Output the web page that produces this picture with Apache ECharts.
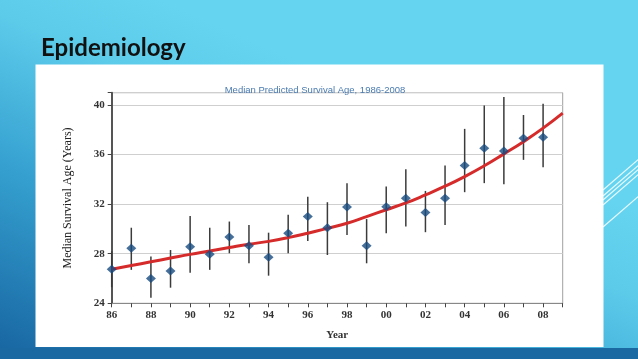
<!DOCTYPE html>
<html>
<head>
<meta charset="utf-8">
<script src="https://cdn.jsdelivr.net/npm/echarts@6/dist/echarts.min.js"></script>
<style>
html,body{margin:0;padding:0;width:638px;height:359px;overflow:hidden;}
#c{width:638px;height:359px;}
</style>
</head>
<body>
<div id="c"></div>
<script>
// ---- data ----
var years = [1986,1987,1988,1989,1990,1991,1992,1993,1994,1995,1996,1997,1998,1999,2000,2001,2002,2003,2004,2005,2006,2007,2008];
var medians = [26.75,28.44,26.0,26.6,28.57,27.96,29.36,28.65,27.72,29.66,31.0,30.1,31.78,28.65,31.8,32.48,31.32,32.48,35.12,36.52,36.3,37.33,37.41];
var lows  = [25.3,26.7,24.45,25.26,26.47,26.7,28.04,27.23,26.23,28.04,29.03,27.9,29.52,27.23,29.66,30.19,29.74,30.33,32.97,33.7,33.6,35.58,34.99];
var highs = [28.2,30.1,27.77,28.3,31.05,30.1,30.6,30.33,29.7,31.14,32.6,32.16,33.7,30.8,33.42,34.83,33.07,35.12,38.08,39.97,40.65,39.2,40.1];
var fitYears = [1986,1987,1988,1989,1990,1991,1992,1993,1994,1995,1996,1997,1998,1999,2000,2001,2002,2003,2004,2005,2006,2007,2008,2009];
var fitValues = [26.75,27.05,27.35,27.65,27.95,28.22,28.5,28.77,29.0,29.3,29.66,30.05,30.46,31.0,31.55,32.1,32.75,33.45,34.23,35.1,36.06,37.05,38.14,39.35];
var yTickValues = [24,28,32,36,40];
var slideTitle = 'Epidemiology';
var chartTitle = 'Median Predicted Survival Age, 1986-2008';
var yName = 'Median Survival Age (Years)';
var xName = 'Year';

var pointData = years.map(function(y,i){return [y, medians[i]];});
var barData = years.map(function(y,i){return [y, lows[i], highs[i]];});
var fitData = fitYears.map(function(y,i){return [y, fitValues[i]];});

var chart = echarts.init(document.getElementById('c'), null, {renderer:'canvas'});
var serif = '"Liberation Serif","DejaVu Serif",serif';
var diag = [190,196,200,205,227];
var graphics = [
  {type:'rect', z:-10, silent:true, shape:{x:0,y:0,width:638,height:359},
   style:{fill:new echarts.graphic.LinearGradient(0.25,0,0,1,[{offset:0,color:'#64d4f0'},{offset:0.2,color:'#5ccbea'},{offset:0.55,color:'#35a0d0'},{offset:1,color:'#1764a0'}])}},
  {type:'rect', z:-9, silent:true, shape:{x:0,y:348,width:638,height:11}, style:{fill:'#1a69a2'}},
  {type:'rect', z:-9, silent:true, shape:{x:35.5,y:64.5,width:568,height:282.5}, style:{fill:'#ffffff'}},
  {type:'text', z:10, left:41, top:36, style:{text:slideTitle, fill:'#111111', font:'bold 24px Lato, "Open Sans", sans-serif'}}
];
diag.forEach(function(y0){
  graphics.push({type:'line', z:-8, silent:true, shape:{x1:603,y1:y0,x2:640,y2:y0-32}, style:{stroke:'rgba(255,255,255,0.85)', lineWidth:1.2}});
});

chart.setOption({
  animation:false,
  graphic: graphics,
  title:{text:chartTitle, left:310, top:80, textAlign:'center',
    textStyle:{color:'#4a7bb0', fontSize:9.5, fontWeight:'normal', fontFamily:'"Liberation Sans Narrow","Liberation Sans",sans-serif'}},
  grid:{left:111.7, top:92.7, right:75.3, bottom:55.7, show:true, borderColor:'#a0a0a0', borderWidth:1, backgroundColor:'transparent'},
  xAxis:{type:'value', min:1986, max:2009, interval:1,
    name:xName, nameLocation:'middle', nameGap:26,
    nameTextStyle:{fontFamily:serif, fontWeight:'bold', fontSize:11, color:'#333'},
    axisLine:{lineStyle:{color:'#888', width:1}},
    axisTick:{show:true, length:4, lineStyle:{color:'#444'}},
    splitLine:{show:false},
    axisLabel:{margin:6, fontFamily:serif, fontWeight:'bold', fontSize:11, color:'#333',
      formatter:function(v){ return (v%2===0 && v<=2008) ? String(v).slice(2) : ''; }}
  },
  yAxis:{type:'value', min:24, max:41, interval:4,
    name:yName, nameLocation:'middle', nameGap:38, nameRotate:90,
    nameTextStyle:{fontFamily:serif, fontSize:12, color:'#222'},
    axisLine:{show:true, lineStyle:{color:'#555', width:2}},
    axisTick:{show:true, length:4, lineStyle:{color:'#444'}},
    splitLine:{show:true, lineStyle:{color:'#cfcfcf', width:1}},
    axisLabel:{margin:7, fontFamily:serif, fontWeight:'bold', fontSize:11, color:'#333',
      formatter:function(v){ return yTickValues.indexOf(v)>=0 ? String(v) : ''; }}
  },
  series:[
    {type:'custom', z:2, data:barData, encode:{x:0, y:[1,2]},
      renderItem:function(params, api){
        var p1 = api.coord([api.value(0), api.value(1)]);
        var p2 = api.coord([api.value(0), api.value(2)]);
        return {type:'line', shape:{x1:p1[0],y1:p1[1],x2:p2[0],y2:p2[1]}, style:{stroke:'#3b3b3b', lineWidth:1.5}};
      }},
    {type:'line', z:3, data:fitData, smooth:true, showSymbol:false,
      lineStyle:{color:'#d62b2b', width:3}},
    {type:'scatter', z:4, data:pointData, symbol:'diamond', symbolSize:[10,9],
      itemStyle:{color:'#174a80'}}
  ]
});
</script>
</body>
</html>
